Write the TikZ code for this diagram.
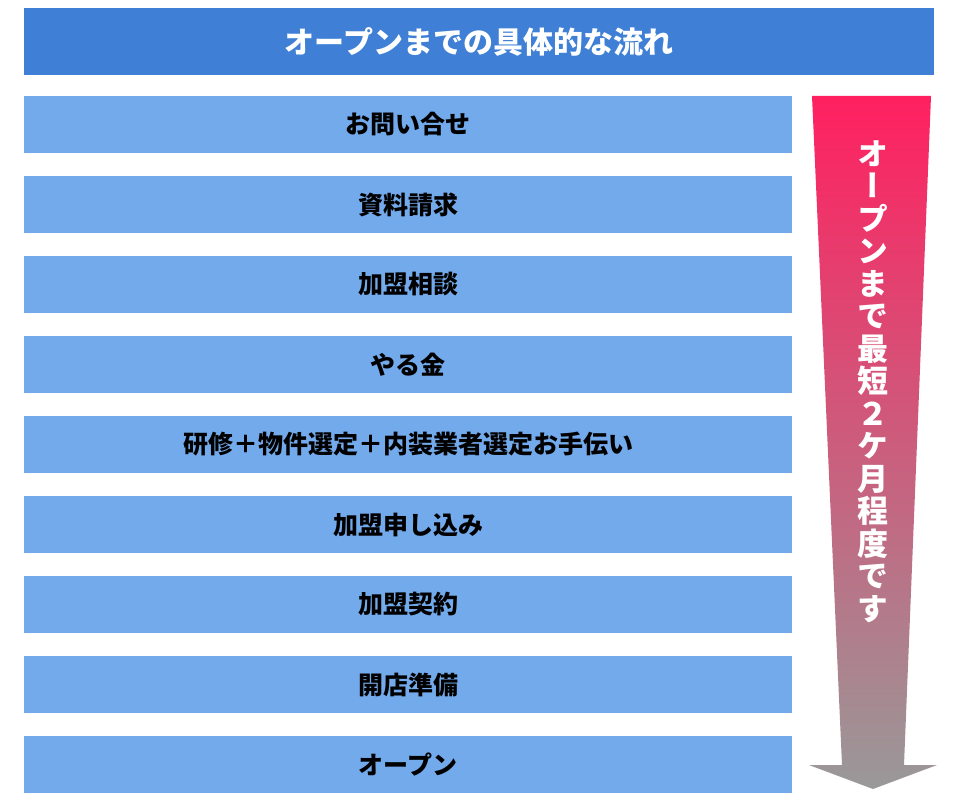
\documentclass[tikz,border=0pt]{standalone}
\usepackage{fontspec}
\setmainfont{Noto Sans CJK JP}
\newfontfamily\jpvert{Noto Sans CJK JP}[RawFeature={+vert}]
\definecolor{headblue}{RGB}{63,128,214}
\definecolor{stepblue}{RGB}{115,170,236}
\definecolor{arrowtop}{RGB}{255,32,96}
\definecolor{arrowbottom}{RGB}{153,153,153}
\tikzset{
  headbar/.style={fill=headblue, minimum width=910pt, minimum height=67pt, inner sep=0pt,
    text=white, font=\bfseries\fontsize{30}{32}\selectfont},
  flowbox/.style={fill=stepblue, minimum width=768pt, minimum height=57pt, inner sep=0pt,
    text=black, font=\bfseries\fontsize{25}{27}\selectfont}
}
\begin{document}
\begin{tikzpicture}[x=1pt,y=-1pt]
\useasboundingbox (0,0) rectangle (960,799);
\node[headbar] (head) at (479,41.5) {オープンまでの具体的な流れ};
\foreach \txt [count=\i] in {お問い合せ,資料請求,加盟相談,やる金,研修＋物件選定＋内装業者選定お手伝い,加盟申し込み,加盟契約,開店準備,オープン}
  \node[flowbox] (s\i) at (408,{44.5+80*\i}) {\txt};
% arrow
\shade[top color=arrowtop, bottom color=arrowbottom]
  (812,96) -- (931,96) -- (904,765) -- (937,765) -- (873,789) -- (809,765) -- (842,765) -- cycle;
\node[text=white, align=center, inner sep=0pt, font=\jpvert\bfseries\fontsize{31}{32.5}\selectfont]
  (period) at (873,381.5) {オ\\ー\\プ\\ン\\ま\\で\\最\\短\\２\\ケ\\月\\程\\度\\で\\す};
\end{tikzpicture}
\end{document}
